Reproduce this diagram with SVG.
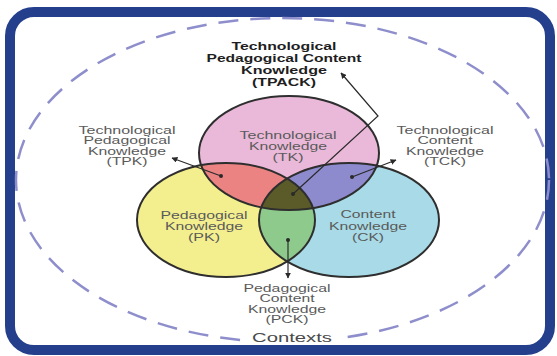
<svg xmlns="http://www.w3.org/2000/svg" width="557" height="356" viewBox="0 0 557 356">
<defs>
<style>
.lbl{font-family:"Liberation Sans",Arial,sans-serif;font-size:10px;fill:#5a5a5a;text-anchor:middle}
.ttl{font-family:"Liberation Sans",Arial,sans-serif;font-size:11px;font-weight:bold;fill:#1e1e1e;text-anchor:middle}
.ctx{font-family:"Liberation Sans",Arial,sans-serif;font-size:13px;fill:#4a4a4a;text-anchor:middle}
.edge{fill:none;stroke:#2a2a2a;stroke-width:1.2}
.dot{fill:#2a2a2a}
.ring{fill:none;stroke:#2e2e2e;stroke-width:2}
</style>
<marker id="ah" viewBox="0 0 10 10" refX="9" refY="5" markerWidth="5" markerHeight="5" orient="auto-start-reverse">
<path d="M0,0 L10,5 L0,10 z" fill="#2a2a2a"/>
</marker>
<clipPath id="cTK"><ellipse cx="289" cy="153" rx="90" ry="57"/></clipPath>
<clipPath id="cPK"><ellipse cx="226" cy="220" rx="89" ry="57"/></clipPath>
<clipPath id="cCK"><ellipse cx="349" cy="220" rx="90" ry="57"/></clipPath>
</defs>
<rect x="0" y="0" width="557" height="356" fill="#ffffff"/>
<rect id="frame" x="10" y="12" width="540" height="338" rx="24" ry="24" fill="#ffffff" stroke="#243f8c" stroke-width="10"/>
<g id="contexts">
<ellipse cx="282.5" cy="180" rx="266.5" ry="162" fill="none" stroke="#8e8ecc" stroke-width="2.5" stroke-dasharray="20 12"/>
<rect x="248" y="330" width="88" height="14" fill="#ffffff"/>
<text class="ctx" x="292" y="342" textLength="80" lengthAdjust="spacingAndGlyphs">Contexts</text>
</g>
<g id="PK"><ellipse cx="226" cy="220" rx="89" ry="57" fill="#f4ef8e"/></g>
<g id="CK"><ellipse cx="349" cy="220" rx="90" ry="57" fill="#a8dbe7"/></g>
<g id="TK"><ellipse cx="289" cy="153" rx="90" ry="57" fill="#eab9d9"/></g>
<g id="TPK"><ellipse cx="289" cy="153" rx="90" ry="57" fill="#ec8383" clip-path="url(#cPK)"/></g>
<g id="TCK"><ellipse cx="289" cy="153" rx="90" ry="57" fill="#8d8ace" clip-path="url(#cCK)"/></g>
<g id="PCK"><ellipse cx="226" cy="220" rx="89" ry="57" fill="#8fca8d" clip-path="url(#cCK)"/></g>
<g id="TPACK"><g clip-path="url(#cPK)"><ellipse cx="289" cy="153" rx="90" ry="57" fill="#5b5b2a" clip-path="url(#cCK)"/></g></g>
<g id="outlines">
<ellipse class="ring" cx="226" cy="220" rx="89" ry="57"/>
<ellipse class="ring" cx="349" cy="220" rx="90" ry="57"/>
<ellipse class="ring" cx="289" cy="153" rx="90" ry="57"/>
</g>
<g id="labels">
<text class="lbl" x="288" y="139" textLength="97" lengthAdjust="spacingAndGlyphs">Technological</text>
<text class="lbl" x="288" y="150" textLength="78" lengthAdjust="spacingAndGlyphs">Knowledge</text>
<text class="lbl" x="288" y="161" textLength="31" lengthAdjust="spacingAndGlyphs">(TK)</text>
<text class="lbl" x="204" y="219" textLength="87" lengthAdjust="spacingAndGlyphs">Pedagogical</text>
<text class="lbl" x="204" y="230" textLength="78" lengthAdjust="spacingAndGlyphs">Knowledge</text>
<text class="lbl" x="204" y="241" textLength="32" lengthAdjust="spacingAndGlyphs">(PK)</text>
<text class="lbl" x="368" y="218" textLength="55" lengthAdjust="spacingAndGlyphs">Content</text>
<text class="lbl" x="368" y="230" textLength="78" lengthAdjust="spacingAndGlyphs">Knowledge</text>
<text class="lbl" x="368" y="241" textLength="32" lengthAdjust="spacingAndGlyphs">(CK)</text>
<text class="lbl" x="127" y="134" textLength="97" lengthAdjust="spacingAndGlyphs">Technological</text>
<text class="lbl" x="127" y="144" textLength="87" lengthAdjust="spacingAndGlyphs">Pedagogical</text>
<text class="lbl" x="127" y="155" textLength="78" lengthAdjust="spacingAndGlyphs">Knowledge</text>
<text class="lbl" x="127" y="165" textLength="41" lengthAdjust="spacingAndGlyphs">(TPK)</text>
<text class="lbl" x="445" y="134" textLength="97" lengthAdjust="spacingAndGlyphs">Technological</text>
<text class="lbl" x="445" y="144" textLength="55" lengthAdjust="spacingAndGlyphs">Content</text>
<text class="lbl" x="445" y="155" textLength="78" lengthAdjust="spacingAndGlyphs">Knowledge</text>
<text class="lbl" x="445" y="165" textLength="42" lengthAdjust="spacingAndGlyphs">(TCK)</text>
<text class="lbl" x="287" y="292" textLength="87" lengthAdjust="spacingAndGlyphs">Pedagogical</text>
<text class="lbl" x="287" y="302" textLength="55" lengthAdjust="spacingAndGlyphs">Content</text>
<text class="lbl" x="287" y="313" textLength="78" lengthAdjust="spacingAndGlyphs">Knowledge</text>
<text class="lbl" x="287" y="323" textLength="43" lengthAdjust="spacingAndGlyphs">(PCK)</text>
<text class="ttl" x="284" y="50" textLength="105" lengthAdjust="spacingAndGlyphs">Technological</text>
<text class="ttl" x="284" y="62" textLength="155" lengthAdjust="spacingAndGlyphs">Pedagogical Content</text>
<text class="ttl" x="284" y="74" textLength="86" lengthAdjust="spacingAndGlyphs">Knowledge</text>
<text class="ttl" x="284" y="86" textLength="64" lengthAdjust="spacingAndGlyphs">(TPACK)</text>
</g>
<g id="connectors">
<polyline class="edge" points="293,194 378,116 341,73" marker-end="url(#ah)"/>
<circle class="dot" cx="293" cy="194" r="2"/>
<line class="edge" x1="221" y1="176" x2="172" y2="158" marker-end="url(#ah)"/>
<circle class="dot" cx="221" cy="176" r="2"/>
<line class="edge" x1="352" y1="177" x2="396" y2="160" marker-end="url(#ah)"/>
<circle class="dot" cx="352" cy="177" r="2"/>
<line class="edge" x1="288" y1="240" x2="288" y2="278" marker-end="url(#ah)"/>
<circle class="dot" cx="288" cy="240" r="2"/>
</g>
</svg>
